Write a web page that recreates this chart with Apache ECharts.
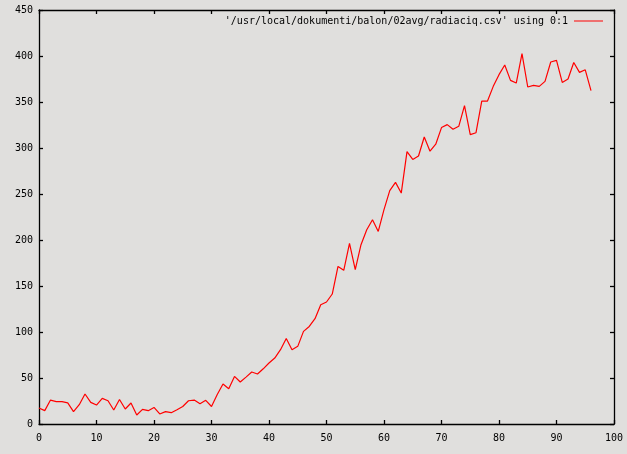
<!DOCTYPE html>
<html>
<head>
<meta charset="utf-8">
<script src="https://cdn.jsdelivr.net/npm/echarts@6/dist/echarts.min.js"></script>
<style>
  html, body { margin: 0; padding: 0; background: #e0dfdd; }
  #chart { width: 627px; height: 454px; }
</style>
</head>
<body>
<div id="chart"></div>
<script>
var seriesName = "'/usr/local/dokumenti/balon/02avg/radiaciq.csv' using 0:1";
// column 1 of the csv, row index is the x value
var radiation = [
  17.4, 14.5, 26, 24.3, 24.3, 23, 13.4, 21, 32.6, 23.5,
  20.6, 27.8, 25.3, 15.2, 26.7, 16.3, 22.8, 9.8, 15.9, 14.5,
  18, 10.9, 13.4, 12.3, 15.5, 19, 25.3, 26, 22, 25.7,
  19, 32, 43.5, 38.4, 51.7, 45.6, 51, 56.5, 54.3, 60,
  66.3, 71.7, 80.8, 93, 80.8, 84.4, 100.7, 106, 114.5, 129.7,
  132.6, 141.3, 171.3, 167, 196.3, 167.7, 194.9, 211.2, 222, 209.3,
  233, 253.6, 262.6, 251, 296, 287.6, 291.3, 312, 296.5, 304.1,
  322.2, 325.4, 320.3, 323.6, 346, 314.5, 316.6, 351, 351, 367,
  379.7, 390.2, 373.5, 370.6, 402.5, 366.3, 368, 367, 372.4, 393.5,
  395.2, 371.3, 375, 393, 382.2, 385, 362.3
];
var xTicks = { min: 0, max: 100, step: 10 };
var yTicks = { min: 0, max: 450, step: 50 };

var points = radiation.map(function (v, i) { return [i, v]; });

var chart = echarts.init(document.getElementById('chart'));
var font = 'DejaVu Sans Mono';
var axisLine = { show: true, onZero: false, lineStyle: { color: '#000', width: 1.3 } };
var tick = { show: true, inside: true, length: 4, lineStyle: { color: '#000', width: 1.3 } };

var option = {
  backgroundColor: '#e0dfdd',
  animation: false,
  grid: { left: 39, right: 13, top: 10, bottom: 30 },
  legend: {
    right: 24,
    top: 16,
    padding: 0,
    align: 'right',
    icon: 'rect',
    itemWidth: 29,
    itemHeight: 1,
    itemGap: 0,
    textStyle: { fontFamily: font, fontSize: 10, color: '#000', padding: [0, 1, 0, 0] },
    data: [seriesName]
  },
  xAxis: [{
    type: 'value', min: xTicks.min, max: xTicks.max, interval: xTicks.step,
    axisLine: axisLine, axisTick: tick, splitLine: { show: false },
    axisLabel: { fontFamily: font, fontSize: 10, color: '#000', margin: 9 }
  }, {
    type: 'value', position: 'top', min: xTicks.min, max: xTicks.max, interval: xTicks.step,
    axisLine: axisLine, axisTick: tick, splitLine: { show: false },
    axisLabel: { show: false }
  }],
  yAxis: [{
    type: 'value', min: yTicks.min, max: yTicks.max, interval: yTicks.step,
    axisLine: axisLine, axisTick: tick, splitLine: { show: false },
    axisLabel: { fontFamily: font, fontSize: 10, color: '#000', margin: 6 }
  }, {
    type: 'value', position: 'right', min: yTicks.min, max: yTicks.max, interval: yTicks.step,
    axisLine: axisLine, axisTick: tick, splitLine: { show: false },
    axisLabel: { show: false }
  }],
  series: [{
    name: seriesName,
    type: 'line',
    data: points,
    showSymbol: false,
    symbol: 'none',
    itemStyle: { color: '#ff0000' },
    lineStyle: { color: '#ff0000', width: 1.2 }
  }]
};
chart.setOption(option);
window.addEventListener('resize', function () { chart.resize(); });
</script>
</body>
</html>
